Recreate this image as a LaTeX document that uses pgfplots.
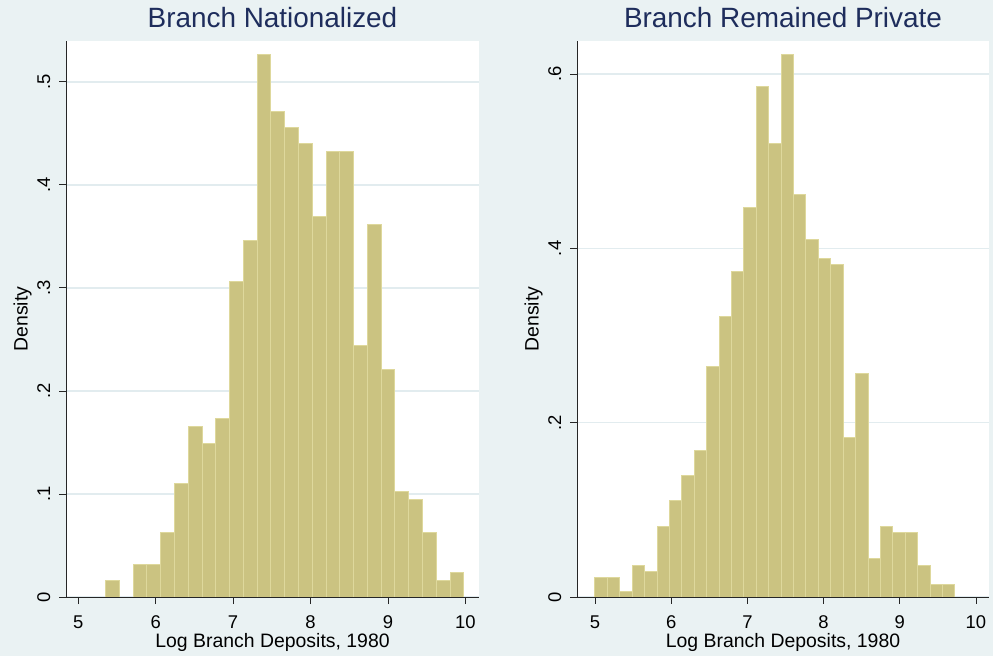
\documentclass[border=0pt]{standalone}
\usepackage{pgfplots}
\pgfplotsset{compat=1.18}
\usepackage{fontspec}
\setmainfont{Liberation Sans}
\definecolor{bgc}{HTML}{EAF2F3}
\definecolor{barfill}{HTML}{CBC381}
\definecolor{barline}{HTML}{DED89C}
\definecolor{ttl}{HTML}{1E2D5C}
\definecolor{gridc}{HTML}{E2ECEF}
\newcommand{\tickfont}{\fontsize{18.5}{19}\selectfont}
\pgfplotsset{
 stata/.style={
  scale only axis, height=556bp,
  axis x line*=bottom, axis y line*=left,
  xtick pos=bottom, ytick pos=left,
  axis line style={-, line width=1bp, black!85},
  tick align=outside, major tick length=7bp,
  tick style={line width=0.8bp, black!85},
  xtick={5,6,7,8,9,10}, xticklabels={5,6,7,8,9,10},
  ymajorgrids, grid style={gridc, line width=1.5bp},
  axis background/.style={fill=white},
  ymin=0,
  /pgf/number format/assume math mode=true,
  xlabel={Log Branch Deposits, 1980}, ylabel={Density},
  label style={font=\fontsize{19.5}{20}\selectfont, inner sep=0pt},
  title style={font=\fontsize{28}{28}\selectfont, text=ttl, at={(0.5,1)}, anchor=base, yshift=8bp},
  xlabel style={at={(axis description cs:0.5,0)}, anchor=base, yshift=-50bp},
  xticklabel style={font=\tickfont, inner sep=0pt, anchor=base, yshift=-24bp},
  yticklabel style={font=\tickfont, inner sep=0pt, xshift=-9bp, rotate=90, anchor=base},
 }
}
\begin{document}
\begin{tikzpicture}
\fill[bgc] (0,0) rectangle (993bp,656bp);
\begin{axis}[stata, at={(66bp,59bp)}, anchor=south west, width=413bp,
  xmin=4.841, xmax=10.177, ymax=0.5396,
  ytick={0,0.1,0.2,0.3,0.4,0.5}, yticklabels={0,.1,.2,.3,.4,.5},
  ylabel style={at={(axis description cs:-0.093,0.5)}, anchor=base},
  title={Branch Nationalized}]
\addplot[ybar interval, fill=barfill, draw=barline, line width=1bp] coordinates {
(5.353,0.0162) (5.531,0.0162)};
\addplot[ybar interval, fill=barfill, draw=barline, line width=1bp] coordinates {
(5.709,0.0317) (5.887,0.0317) (6.065,0.063) (6.243,0.110) (6.421,0.1655)
(6.599,0.149) (6.777,0.173) (6.955,0.3065) (7.133,0.3457) (7.311,0.5263)
(7.489,0.4716) (7.667,0.456) (7.845,0.440) (8.023,0.3694) (8.201,0.432)
(8.379,0.432) (8.557,0.2439) (8.735,0.3615) (8.913,0.2205) (9.091,0.1025)
(9.269,0.0946) (9.447,0.063) (9.625,0.0162) (9.803,0.0234) (9.981,0.0234)};
\end{axis}
\begin{axis}[stata, at={(577bp,59bp)}, anchor=south west, width=412bp,
  xmin=4.764, xmax=10.171, ymax=0.638,
  ytick={0,0.2,0.4,0.6}, yticklabels={0,.2,.4,.6},
  ylabel style={at={(axis description cs:-0.0932,0.5)}, anchor=base},
  title={Branch Remained Private}]
\addplot[ybar interval, fill=barfill, draw=barline, line width=1bp] coordinates {
(5.000,0.0221) (5.163,0.0221) (5.326,0.0068) (5.489,0.0366) (5.652,0.0289)
(5.815,0.0809) (5.977,0.1102) (6.140,0.139) (6.303,0.1685) (6.466,0.264)
(6.629,0.322) (6.792,0.3736) (6.955,0.4464) (7.118,0.5855) (7.281,0.52)
(7.444,0.6226) (7.606,0.4613) (7.769,0.4106) (7.932,0.388) (8.095,0.3813)
(8.258,0.183) (8.421,0.2566) (8.584,0.0438) (8.747,0.0809) (8.910,0.0736)
(9.073,0.0736) (9.235,0.0366) (9.398,0.0145) (9.561,0.0145) (9.724,0.0145)};
\end{axis}
\end{tikzpicture}
\end{document}
